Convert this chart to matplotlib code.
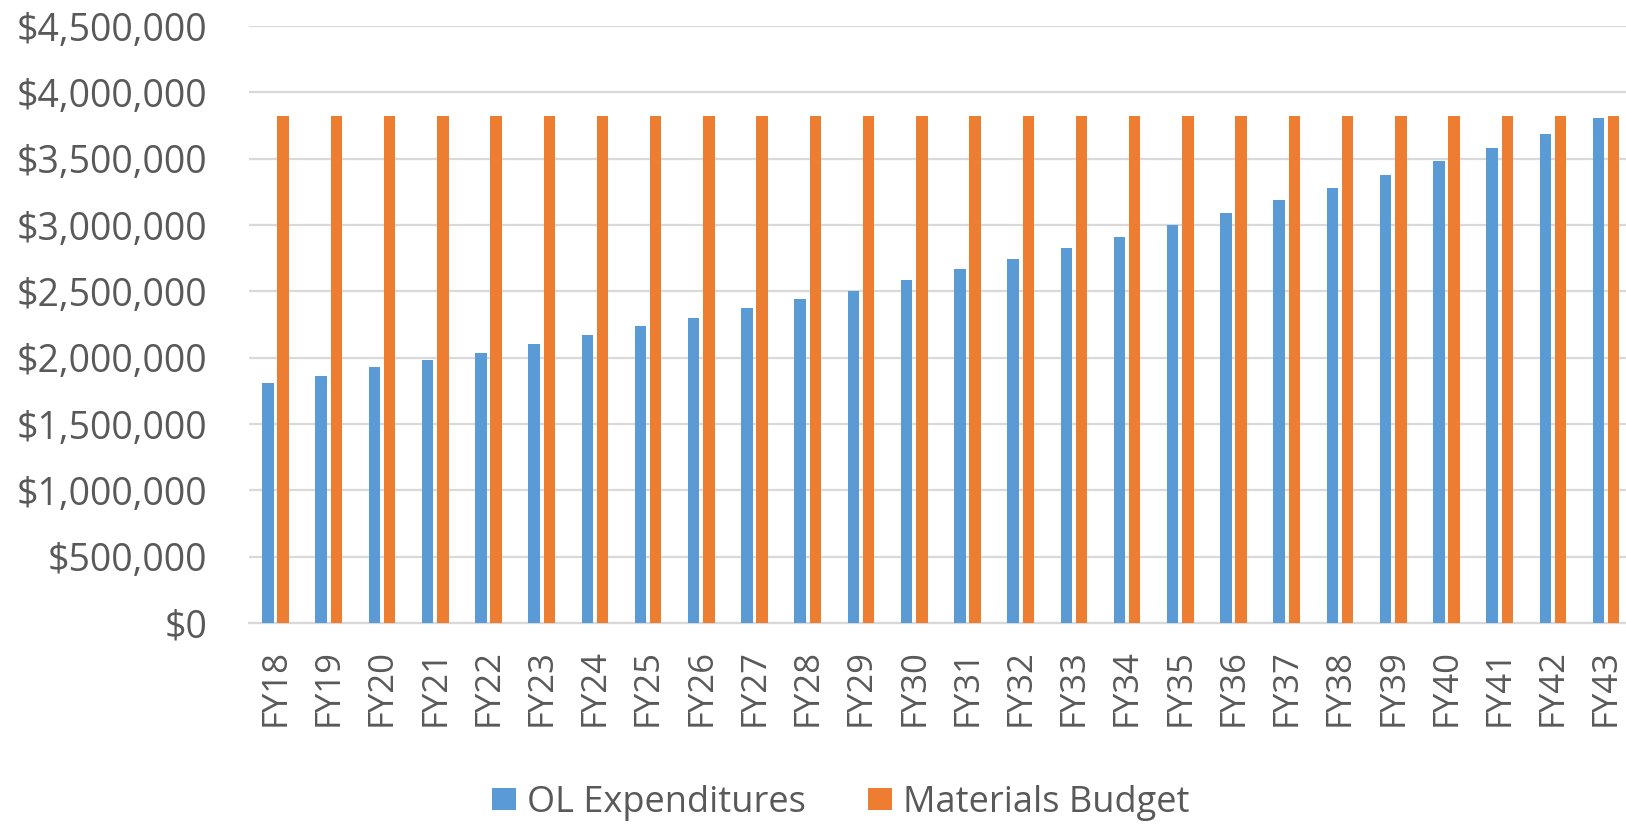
import numpy as np
import matplotlib.pyplot as plt
from matplotlib.ticker import FuncFormatter

# data
years = ['FY%d' % y for y in range(18, 44)]
ol_expenditures = [1808000, 1864000, 1929000, 1985000, 2038000, 2103000, 2171000,
                   2237000, 2303000, 2373000, 2446000, 2504000, 2585000, 2666000,
                   2746000, 2827000, 2908000, 3000000, 3094000, 3187000, 3281000,
                   3375000, 3486000, 3580000, 3686000, 3807000]
materials_budget = [3820000] * len(years)

blue = '#5B9BD5'
orange = '#ED7D31'
grey_text = '#595959'
grid_col = '#D9D9D9'

plt.rcParams['font.family'] = ['Open Sans', 'DejaVu Sans']

fig = plt.figure(figsize=(16.26, 8.25), dpi=100)
ax = fig.add_axes([0.1531, 0.2448, 0.851, 0.7236])

x = np.arange(len(years))
w = 0.215
off = 0.143
ax.bar(x - off, ol_expenditures, width=w, color=blue, label='OL Expenditures', zorder=3)
ax.bar(x + off, materials_budget, width=w, color=orange, label='Materials Budget', zorder=3)

ax.set_xlim(-0.5, len(years) - 0.5)
ax.set_ylim(0, 4500000)
ax.set_yticks(np.arange(0, 4500001, 500000))
ax.yaxis.set_major_formatter(FuncFormatter(lambda v, p: '${:,.0f}'.format(v)))
ax.set_xticks(x)
ax.set_xticklabels(years, rotation=90)

ax.grid(axis='y', color=grid_col, linewidth=1.6, zorder=0)
for s in ['top', 'right', 'left']:
    ax.spines[s].set_visible(False)
ax.spines['bottom'].set_color(grid_col)
ax.spines['bottom'].set_linewidth(1.6)
ax.tick_params(axis='y', length=0, pad=30, labelsize=27, labelcolor=grey_text)
ax.tick_params(axis='x', length=0, pad=19, labelsize=25, labelcolor=grey_text)

fig.legend(loc='center', bbox_to_anchor=(0.517, 0.027), ncol=2, frameon=False,
           fontsize=26, labelcolor=grey_text, handlelength=0.67, handleheight=0.6,
           handletextpad=0.3, columnspacing=1.7)

plt.savefig('out.png', dpi=100)
